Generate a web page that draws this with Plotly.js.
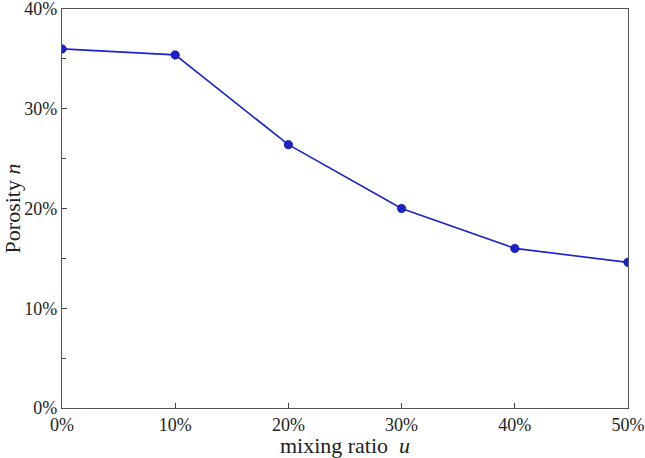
<!DOCTYPE html>
<html><head><meta charset="utf-8">
<script src="https://cdn.plot.ly/plotly-3.0.1.min.js"></script>
<style>body{margin:0;padding:0;background:#fff}#c{width:645px;height:458px}</style>
</head><body><div id="c"></div>
<script>
const mixingRatio = [0, 10, 20, 30, 40, 50];
const porosity = [36.0, 35.4, 26.4, 20.0, 16.0, 14.6];
const xTickVals = [0, 10, 20, 30, 40, 50];
const xTickText = ['0%', '10%', '20%', '30%', '40%', '50%'];
const yTickVals = [0, 10, 20, 30, 40];
const yTickText = ['0%', '10%', '20%', '30%', '40%'];

const font = '"Liberation Serif", "Times New Roman", serif';
Plotly.newPlot('c', [{
  x: mixingRatio, y: porosity, type: 'scatter', mode: 'lines+markers',
  line: {color: '#1c22d0', width: 1.6},
  marker: {size: 8.5, color: '#1c22c8', line: {color: '#0a0f90', width: 0.6}},
  cliponaxis: true
}], {
  width: 645, height: 458,
  margin: {l: 62, r: 17, t: 9, b: 50},
  paper_bgcolor: '#fff', plot_bgcolor: '#fff',
  showlegend: false,
  font: {family: font, size: 18, color: '#222'},
  xaxis: {
    range: [0, 50], tickvals: xTickVals, ticktext: xTickText,
    ticks: 'inside', ticklen: 5, tickcolor: '#444', showgrid: false, zeroline: false,
    showline: true, linecolor: '#555', linewidth: 1.2, mirror: true,
    ticklabeloverflow: 'allow',
    tickfont: {family: font, size: 18, color: '#222'},
    title: {text: 'mixing ratio  <i>u</i>', font: {family: font, size: 22, color: '#222'}, standoff: 4}
  },
  yaxis: {
    range: [0, 40], tickvals: yTickVals, ticktext: yTickText,
    ticks: 'inside', ticklen: 5, tickcolor: '#444', showgrid: false, zeroline: false,
    showline: true, linecolor: '#555', linewidth: 1.2, mirror: true,
    ticklabeloverflow: 'allow',
    minor: {dtick: 5, ticks: 'inside', ticklen: 4, tickcolor: '#444'},
    tickfont: {family: font, size: 18, color: '#222'},
    title: {text: 'Porosity <i>n</i>', font: {family: font, size: 22, color: '#222'}, standoff: 2}
  }
}, {displayModeBar: false, staticPlot: true});
</script></body></html>
